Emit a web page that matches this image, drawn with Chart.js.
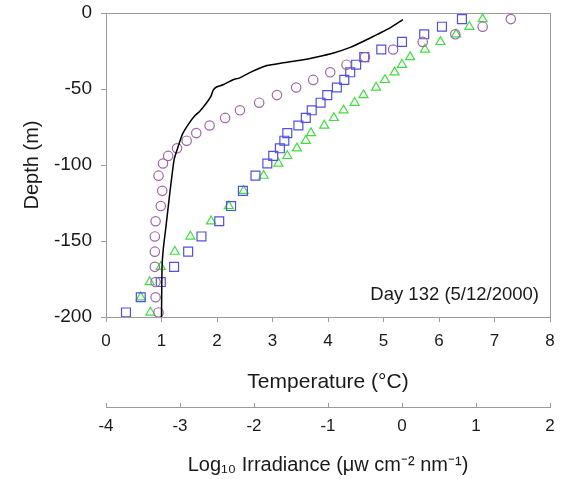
<!DOCTYPE html>
<html>
<head>
<meta charset="utf-8">
<script src="https://cdn.jsdelivr.net/npm/chart.js@4/dist/chart.umd.min.js"></script>
<style>
  html, body { margin: 0; padding: 0; background: #ffffff; }
  #wrap { width: 564px; height: 479px; position: relative; }
</style>
</head>
<body>
<div id="wrap"><canvas id="c" width="564" height="479"></canvas></div>
<script>
// ---- data ----
const sampleDepths = [-4, -9, -14, -19, -24, -29, -34, -39, -44, -49, -54, -59, -64, -69, -74,
  -79, -84, -89, -94, -99, -107, -117, -127, -137, -147, -157, -167, -177, -187, -197];

// Log10 irradiance profiles (three wavebands)
const irradCircles = [1.47, 1.09, 0.72, 0.28, -0.12, -0.50, -0.75, -0.97, -1.20, -1.43, -1.69, -1.93,
  -2.19, -2.39, -2.60, -2.78, -2.91, -3.04, -3.16, -3.23, -3.29, -3.24, -3.26, -3.33, -3.34, -3.34,
  -3.34, -3.33, -3.33, -3.29];
const irradSquares = [0.81, 0.54, 0.30, 0.00, -0.28, -0.51, -0.62, -0.70, -0.78, -0.88, -1.01, -1.10,
  -1.22, -1.30, -1.40, -1.55, -1.59, -1.65, -1.74, -1.82, -1.98, -2.15, -2.31, -2.47, -2.71, -2.89,
  -3.08, -3.26, -3.53, -3.73];
const irradTriangles = [1.09, 0.91, 0.73, 0.52, 0.31, 0.11, 0.00, -0.10, -0.23, -0.35, -0.52, -0.64,
  -0.79, -0.92, -1.05, -1.23, -1.30, -1.42, -1.55, -1.67, -1.87, -2.14, -2.34, -2.58, -2.86, -3.07,
  -3.26, -3.41, -3.53, -3.40];

// Temperature profile (line)
const tempDepths = [-4.3, -9.8, -14.2, -18.6, -22.6, -26.3, -28.9, -31.1, -32.8, -34.6, -39.2, -42.7,
  -43.9, -47.2, -48.7, -50.9, -54.9, -59.2, -64.6, -67.6, -72.9, -79.5, -87.9, -96, -106.5, -118.4,
  -140.6, -156, -167, -200];
const temperatures = [5.35, 5.12, 4.88, 4.64, 4.40, 4.10, 3.80, 3.50, 3.19, 2.90, 2.59, 2.41,
  2.29, 2.11, 1.99, 1.93, 1.89, 1.81, 1.69, 1.60, 1.49, 1.38, 1.30, 1.23, 1.19, 1.15,
  1.08, 1.03, 1.01, 1.00];

const depthTicks = [0, -50, -100, -150, -200];
const tempTicks = [0, 1, 2, 3, 4, 5, 6, 7, 8];
const irradTicks = [-4, -3, -2, -1, 0, 1, 2];
const annotationText = 'Day 132 (5/12/2000)';

// ---- build ----
const pts = (xs, ys) => xs.map((v, i) => ({ x: v, y: ys[i] }));
const AXIS = '#9a9a9a';
const TXT = '#1a1a1a';
const FONT = "'Liberation Sans', Arial, sans-serif";

function fixBox(size, isWidth) {
  return s => {
    if (isWidth) s.width = size; else s.height = size;
    s.paddingLeft = 0; s.paddingRight = 0; s.paddingTop = 0; s.paddingBottom = 0;
  };
}

const framePlugin = {
  id: 'frame',
  beforeDatasetsDraw(chart) {
    const a = chart.chartArea, ctx = chart.ctx;
    ctx.save();
    ctx.strokeStyle = AXIS;
    ctx.lineWidth = 1;
    ctx.strokeRect(Math.round(a.left) + 0.5, Math.round(a.top) + 0.5,
      Math.round(a.right - a.left), Math.round(a.bottom - a.top));
    ctx.restore();
  },
  afterDatasetsDraw(chart) {
    const a = chart.chartArea, ctx = chart.ctx;
    ctx.save();
    ctx.font = '18.5px ' + FONT;
    ctx.fillStyle = TXT;
    ctx.textAlign = 'right';
    ctx.textBaseline = 'alphabetic';
    ctx.fillText(annotationText, a.right - 11, a.bottom - 17);
    ctx.restore();
  }
};

new Chart(document.getElementById('c'), {
  type: 'scatter',
  data: {
    datasets: [
      {
        label: 'Temperature',
        data: pts(temperatures, tempDepths),
        xAxisID: 'x', yAxisID: 'y',
        showLine: true,
        borderColor: '#000000',
        borderWidth: 1.5,
        pointRadius: 0,
        tension: 0.25,
        fill: false
      },
      {
        label: 'Irradiance (circles)',
        data: pts(irradCircles, sampleDepths),
        xAxisID: 'x2', yAxisID: 'y',
        pointStyle: 'circle',
        pointRadius: 4.7,
        borderColor: '#a064aa',
        backgroundColor: 'rgba(0,0,0,0)',
        borderWidth: 1.2
      },
      {
        label: 'Irradiance (squares)',
        data: pts(irradSquares, sampleDepths),
        xAxisID: 'x2', yAxisID: 'y',
        pointStyle: 'rect',
        pointRadius: 6.3,
        borderColor: '#5050e6',
        backgroundColor: 'rgba(0,0,0,0)',
        borderWidth: 1.2
      },
      {
        label: 'Irradiance (triangles)',
        data: pts(irradTriangles, sampleDepths),
        xAxisID: 'x2', yAxisID: 'y',
        pointStyle: 'triangle',
        pointRadius: 5.2,
        borderColor: '#3ee03e',
        backgroundColor: 'rgba(0,0,0,0)',
        borderWidth: 1.2
      }
    ]
  },
  options: {
    responsive: false,
    animation: false,
    events: [],
    layout: { padding: { left: 0, top: 13, right: 14, bottom: 0 } },
    plugins: { legend: { display: false }, tooltip: { enabled: false } },
    scales: {
      y: {
        type: 'linear', position: 'left',
        min: -200, max: 0,
        afterBuildTicks: s => { s.ticks = depthTicks.map(v => ({ value: v })); },
        afterFit: fixBox(106, true),
        grid: { drawOnChartArea: false, drawTicks: true, tickLength: 5, color: AXIS },
        border: { display: true, color: AXIS, width: 1 },
        ticks: { color: TXT, padding: 9, font: { family: FONT, size: 19 } },
        title: { display: true, text: 'Depth (m)', color: TXT,
          font: { family: FONT, size: 20 }, padding: { top: 20, bottom: 0 } }
      },
      x: {
        type: 'linear', position: 'bottom', weight: 0,
        min: 0, max: 8,
        afterBuildTicks: s => { s.ticks = tempTicks.map(v => ({ value: v })); },
        afterFit: fixBox(90, false),
        grid: { drawOnChartArea: false, drawTicks: true, tickLength: 5, color: AXIS },
        border: { display: true, color: AXIS, width: 1 },
        ticks: { color: TXT, padding: 9, maxRotation: 0, font: { family: FONT, size: 17 } },
        title: { display: true, text: 'Temperature (°C)', color: TXT,
          font: { family: FONT, size: 21 }, padding: { top: 0, bottom: 12 } }
      },
      x2: {
        type: 'linear', position: 'bottom', weight: 1,
        min: -4, max: 2,
        afterBuildTicks: s => { s.ticks = irradTicks.map(v => ({ value: v })); },
        afterFit: fixBox(72, false),
        grid: { drawOnChartArea: false, drawTicks: true, tickLength: -4, color: AXIS },
        border: { display: true, color: AXIS, width: 1 },
        ticks: { color: TXT, padding: 13, maxRotation: 0, font: { family: FONT, size: 17 } },
        title: { display: true, text: 'Log₁₀ Irradiance (μw cm⁻² nm⁻¹)', color: TXT,
          font: { family: FONT, size: 20 }, padding: { top: 0, bottom: 2 } }
      }
    }
  },
  plugins: [framePlugin]
});
</script>
</body>
</html>
